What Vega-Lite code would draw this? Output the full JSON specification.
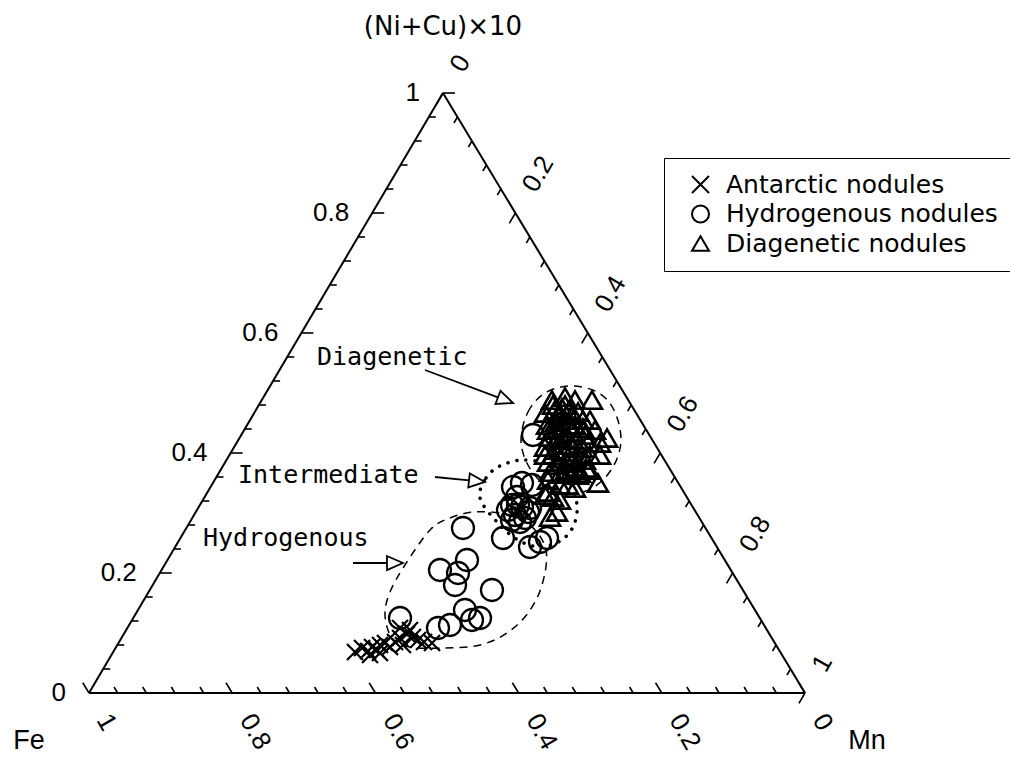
{
  "$schema": "https://vega.github.io/schema/vega-lite/v6.json",
  "width": 716,
  "height": 600,
  "autosize": {"type": "none"},
  "padding": {"left": 89, "top": 93, "right": 205, "bottom": 64},
  "background": "white",
  "config": {
    "view": {"stroke": null},
    "legend": {
      "orient": "none", "legendX": 575, "legendY": 65,
      "strokeColor": "black", "padding": 14, "symbolOffset": 10, "labelOffset": 13,
      "labelFont": "DejaVu Sans", "labelFontSize": 25, "labelColor": "black", "labelLimit": 500,
      "symbolSize": 289, "symbolStrokeWidth": 2, "symbolStrokeColor": "black", "symbolFillColor": "transparent", "symbolOpacity": 1,
      "rowPadding": 3.5
    }
  },
  "datasets": {
    "points": [
      {"type": "Antarctic nodules", "x": 0.3715, "y": 0.0683},
      {"type": "Antarctic nodules", "x": 0.3813, "y": 0.0750},
      {"type": "Antarctic nodules", "x": 0.3897, "y": 0.0700},
      {"type": "Antarctic nodules", "x": 0.3953, "y": 0.0767},
      {"type": "Antarctic nodules", "x": 0.4022, "y": 0.0717},
      {"type": "Antarctic nodules", "x": 0.4064, "y": 0.0800},
      {"type": "Antarctic nodules", "x": 0.4134, "y": 0.0833},
      {"type": "Antarctic nodules", "x": 0.4204, "y": 0.0767},
      {"type": "Antarctic nodules", "x": 0.4274, "y": 0.0850},
      {"type": "Antarctic nodules", "x": 0.4344, "y": 0.0917},
      {"type": "Antarctic nodules", "x": 0.4385, "y": 0.0800},
      {"type": "Antarctic nodules", "x": 0.4441, "y": 0.0983},
      {"type": "Antarctic nodules", "x": 0.4483, "y": 0.1050},
      {"type": "Antarctic nodules", "x": 0.4525, "y": 0.0933},
      {"type": "Antarctic nodules", "x": 0.4595, "y": 0.0883},
      {"type": "Antarctic nodules", "x": 0.4679, "y": 0.0850},
      {"type": "Antarctic nodules", "x": 0.4791, "y": 0.0833},
      {"type": "Antarctic nodules", "x": 0.4064, "y": 0.0667},
      {"type": "Antarctic nodules", "x": 0.3925, "y": 0.0633},
      {"type": "Antarctic nodules", "x": 0.4344, "y": 0.1083},
      {"type": "Hydrogenous nodules", "x": 0.4344, "y": 0.1250},
      {"type": "Hydrogenous nodules", "x": 0.4874, "y": 0.1083},
      {"type": "Hydrogenous nodules", "x": 0.5042, "y": 0.1133},
      {"type": "Hydrogenous nodules", "x": 0.5251, "y": 0.1383},
      {"type": "Hydrogenous nodules", "x": 0.5349, "y": 0.1217},
      {"type": "Hydrogenous nodules", "x": 0.5461, "y": 0.1250},
      {"type": "Hydrogenous nodules", "x": 0.5112, "y": 0.1800},
      {"type": "Hydrogenous nodules", "x": 0.5154, "y": 0.2000},
      {"type": "Hydrogenous nodules", "x": 0.4902, "y": 0.2050},
      {"type": "Hydrogenous nodules", "x": 0.5279, "y": 0.2217},
      {"type": "Hydrogenous nodules", "x": 0.5628, "y": 0.1717},
      {"type": "Hydrogenous nodules", "x": 0.5223, "y": 0.2750},
      {"type": "Hydrogenous nodules", "x": 0.5782, "y": 0.2583},
      {"type": "Hydrogenous nodules", "x": 0.6159, "y": 0.2433},
      {"type": "Hydrogenous nodules", "x": 0.6299, "y": 0.2517},
      {"type": "Hydrogenous nodules", "x": 0.6397, "y": 0.2583},
      {"type": "Hydrogenous nodules", "x": 0.6047, "y": 0.3500},
      {"type": "Hydrogenous nodules", "x": 0.6187, "y": 0.3467},
      {"type": "Hydrogenous nodules", "x": 0.5978, "y": 0.3267},
      {"type": "Hydrogenous nodules", "x": 0.5852, "y": 0.3050},
      {"type": "Hydrogenous nodules", "x": 0.6047, "y": 0.3100},
      {"type": "Hydrogenous nodules", "x": 0.5950, "y": 0.2967},
      {"type": "Hydrogenous nodules", "x": 0.6089, "y": 0.2917},
      {"type": "Hydrogenous nodules", "x": 0.6159, "y": 0.3083},
      {"type": "Hydrogenous nodules", "x": 0.6020, "y": 0.2850},
      {"type": "Hydrogenous nodules", "x": 0.5908, "y": 0.3133},
      {"type": "Hydrogenous nodules", "x": 0.5922, "y": 0.3433},
      {"type": "Hydrogenous nodules", "x": 0.6201, "y": 0.4300},
      {"type": "Hydrogenous nodules", "x": 0.5992, "y": 0.3133},
      {"type": "Hydrogenous nodules", "x": 0.6131, "y": 0.3017},
      {"type": "Hydrogenous nodules", "x": 0.5908, "y": 0.2883},
      {"type": "Diagenetic nodules", "x": 0.6466, "y": 0.4883},
      {"type": "Diagenetic nodules", "x": 0.6648, "y": 0.4933},
      {"type": "Diagenetic nodules", "x": 0.6788, "y": 0.4883},
      {"type": "Diagenetic nodules", "x": 0.7025, "y": 0.4883},
      {"type": "Diagenetic nodules", "x": 0.6369, "y": 0.4667},
      {"type": "Diagenetic nodules", "x": 0.6508, "y": 0.4717},
      {"type": "Diagenetic nodules", "x": 0.6606, "y": 0.4750},
      {"type": "Diagenetic nodules", "x": 0.6718, "y": 0.4717},
      {"type": "Diagenetic nodules", "x": 0.6830, "y": 0.4683},
      {"type": "Diagenetic nodules", "x": 0.6397, "y": 0.4467},
      {"type": "Diagenetic nodules", "x": 0.6522, "y": 0.4517},
      {"type": "Diagenetic nodules", "x": 0.6648, "y": 0.4550},
      {"type": "Diagenetic nodules", "x": 0.6788, "y": 0.4467},
      {"type": "Diagenetic nodules", "x": 0.6899, "y": 0.4417},
      {"type": "Diagenetic nodules", "x": 0.7067, "y": 0.4383},
      {"type": "Diagenetic nodules", "x": 0.7235, "y": 0.4250},
      {"type": "Diagenetic nodules", "x": 0.7137, "y": 0.4167},
      {"type": "Diagenetic nodules", "x": 0.6439, "y": 0.4267},
      {"type": "Diagenetic nodules", "x": 0.6578, "y": 0.4300},
      {"type": "Diagenetic nodules", "x": 0.6690, "y": 0.4250},
      {"type": "Diagenetic nodules", "x": 0.6830, "y": 0.4217},
      {"type": "Diagenetic nodules", "x": 0.6969, "y": 0.4167},
      {"type": "Diagenetic nodules", "x": 0.6508, "y": 0.4050},
      {"type": "Diagenetic nodules", "x": 0.6648, "y": 0.4017},
      {"type": "Diagenetic nodules", "x": 0.6760, "y": 0.4083},
      {"type": "Diagenetic nodules", "x": 0.6885, "y": 0.3967},
      {"type": "Diagenetic nodules", "x": 0.6411, "y": 0.3850},
      {"type": "Diagenetic nodules", "x": 0.6550, "y": 0.3800},
      {"type": "Diagenetic nodules", "x": 0.6676, "y": 0.3833},
      {"type": "Diagenetic nodules", "x": 0.6816, "y": 0.3767},
      {"type": "Diagenetic nodules", "x": 0.6927, "y": 0.3883},
      {"type": "Diagenetic nodules", "x": 0.6439, "y": 0.3683},
      {"type": "Diagenetic nodules", "x": 0.6578, "y": 0.3650},
      {"type": "Diagenetic nodules", "x": 0.6718, "y": 0.3667},
      {"type": "Diagenetic nodules", "x": 0.6858, "y": 0.3667},
      {"type": "Diagenetic nodules", "x": 0.6983, "y": 0.3717},
      {"type": "Diagenetic nodules", "x": 0.7109, "y": 0.3500},
      {"type": "Diagenetic nodules", "x": 0.6690, "y": 0.3467},
      {"type": "Diagenetic nodules", "x": 0.6411, "y": 0.3350},
      {"type": "Diagenetic nodules", "x": 0.6578, "y": 0.3217},
      {"type": "Diagenetic nodules", "x": 0.6480, "y": 0.3267},
      {"type": "Diagenetic nodules", "x": 0.6439, "y": 0.2933},
      {"type": "Diagenetic nodules", "x": 0.6536, "y": 0.3017},
      {"type": "Diagenetic nodules", "x": 0.6369, "y": 0.3300},
      {"type": "Diagenetic nodules", "x": 0.6550, "y": 0.4417},
      {"type": "Diagenetic nodules", "x": 0.6746, "y": 0.4350},
      {"type": "Diagenetic nodules", "x": 0.6606, "y": 0.4133},
      {"type": "Diagenetic nodules", "x": 0.6788, "y": 0.3917},
      {"type": "Diagenetic nodules", "x": 0.6480, "y": 0.3967},
      {"type": "Diagenetic nodules", "x": 0.6662, "y": 0.3717},
      {"type": "Diagenetic nodules", "x": 0.6899, "y": 0.4550},
      {"type": "Diagenetic nodules", "x": 0.6578, "y": 0.4633},
      {"type": "Diagenetic nodules", "x": 0.6718, "y": 0.4467},
      {"type": "Diagenetic nodules", "x": 0.6997, "y": 0.3967},
      {"type": "Diagenetic nodules", "x": 0.6369, "y": 0.4100},
      {"type": "Diagenetic nodules", "x": 0.6830, "y": 0.3633},
      {"type": "Diagenetic nodules", "x": 0.6411, "y": 0.4383},
      {"type": "Diagenetic nodules", "x": 0.6620, "y": 0.4417},
      {"type": "Diagenetic nodules", "x": 0.6760, "y": 0.4633},
      {"type": "Diagenetic nodules", "x": 0.6927, "y": 0.4300},
      {"type": "Diagenetic nodules", "x": 0.6522, "y": 0.4217},
      {"type": "Diagenetic nodules", "x": 0.6732, "y": 0.4133},
      {"type": "Diagenetic nodules", "x": 0.6885, "y": 0.4083},
      {"type": "Diagenetic nodules", "x": 0.6578, "y": 0.3917},
      {"type": "Diagenetic nodules", "x": 0.6746, "y": 0.3850},
      {"type": "Diagenetic nodules", "x": 0.6941, "y": 0.3750},
      {"type": "Diagenetic nodules", "x": 0.6411, "y": 0.3550},
      {"type": "Diagenetic nodules", "x": 0.6578, "y": 0.3467},
      {"type": "Diagenetic nodules", "x": 0.6788, "y": 0.3417},
      {"type": "Diagenetic nodules", "x": 0.6480, "y": 0.4800},
      {"type": "Diagenetic nodules", "x": 0.6997, "y": 0.4550},
      {"type": "Diagenetic nodules", "x": 0.7137, "y": 0.3967},
      {"type": "Diagenetic nodules", "x": 0.6369, "y": 0.3967},
      {"type": "Diagenetic nodules", "x": 0.6648, "y": 0.4800}
    ],
    "frame": [
      {"k": "e", "x": 0, "y": 0, "x2": 1, "y2": 0},
      {"k": "e", "x": 1, "y": 0, "x2": 0.4944, "y2": 1},
      {"k": "e", "x": 0.4944, "y": 1, "x2": 0, "y2": 0},
      {"k": "t", "x": 0, "y": 0, "x2": 0.0168, "y2": 0},
      {"k": "t", "x": 0.0198, "y": 0.04, "x2": 0.0296, "y2": 0.04},
      {"k": "t", "x": 0.0396, "y": 0.08, "x2": 0.0493, "y2": 0.08},
      {"k": "t", "x": 0.0593, "y": 0.12, "x2": 0.0691, "y2": 0.12},
      {"k": "t", "x": 0.0791, "y": 0.16, "x2": 0.0889, "y2": 0.16},
      {"k": "t", "x": 0.0989, "y": 0.20, "x2": 0.1156, "y2": 0.20},
      {"k": "t", "x": 0.1187, "y": 0.24, "x2": 0.1284, "y2": 0.24},
      {"k": "t", "x": 0.1384, "y": 0.28, "x2": 0.1482, "y2": 0.28},
      {"k": "t", "x": 0.1582, "y": 0.32, "x2": 0.1680, "y2": 0.32},
      {"k": "t", "x": 0.1780, "y": 0.36, "x2": 0.1878, "y2": 0.36},
      {"k": "t", "x": 0.1978, "y": 0.40, "x2": 0.2145, "y2": 0.40},
      {"k": "t", "x": 0.2175, "y": 0.44, "x2": 0.2273, "y2": 0.44},
      {"k": "t", "x": 0.2373, "y": 0.48, "x2": 0.2471, "y2": 0.48},
      {"k": "t", "x": 0.2571, "y": 0.52, "x2": 0.2669, "y2": 0.52},
      {"k": "t", "x": 0.2769, "y": 0.56, "x2": 0.2867, "y2": 0.56},
      {"k": "t", "x": 0.2967, "y": 0.60, "x2": 0.3134, "y2": 0.60},
      {"k": "t", "x": 0.3164, "y": 0.64, "x2": 0.3262, "y2": 0.64},
      {"k": "t", "x": 0.3362, "y": 0.68, "x2": 0.3460, "y2": 0.68},
      {"k": "t", "x": 0.3560, "y": 0.72, "x2": 0.3658, "y2": 0.72},
      {"k": "t", "x": 0.3758, "y": 0.76, "x2": 0.3855, "y2": 0.76},
      {"k": "t", "x": 0.3955, "y": 0.80, "x2": 0.4123, "y2": 0.80},
      {"k": "t", "x": 0.4153, "y": 0.84, "x2": 0.4251, "y2": 0.84},
      {"k": "t", "x": 0.4351, "y": 0.88, "x2": 0.4449, "y2": 0.88},
      {"k": "t", "x": 0.4549, "y": 0.92, "x2": 0.4646, "y2": 0.92},
      {"k": "t", "x": 0.4746, "y": 0.96, "x2": 0.4844, "y2": 0.96},
      {"k": "t", "x": 0.4944, "y": 1.00, "x2": 0.5112, "y2": 1.00},
      {"k": "t", "x": 0, "y": 0, "x2": -0.0087, "y2": 0.0171},
      {"k": "t", "x": 0.04, "y": 0, "x2": 0.0350, "y2": 0.0100},
      {"k": "t", "x": 0.08, "y": 0, "x2": 0.0750, "y2": 0.0100},
      {"k": "t", "x": 0.12, "y": 0, "x2": 0.1150, "y2": 0.0100},
      {"k": "t", "x": 0.16, "y": 0, "x2": 0.1550, "y2": 0.0100},
      {"k": "t", "x": 0.20, "y": 0, "x2": 0.1913, "y2": 0.0171},
      {"k": "t", "x": 0.24, "y": 0, "x2": 0.2350, "y2": 0.0100},
      {"k": "t", "x": 0.28, "y": 0, "x2": 0.2750, "y2": 0.0100},
      {"k": "t", "x": 0.32, "y": 0, "x2": 0.3150, "y2": 0.0100},
      {"k": "t", "x": 0.36, "y": 0, "x2": 0.3550, "y2": 0.0100},
      {"k": "t", "x": 0.40, "y": 0, "x2": 0.3913, "y2": 0.0171},
      {"k": "t", "x": 0.44, "y": 0, "x2": 0.4350, "y2": 0.0100},
      {"k": "t", "x": 0.48, "y": 0, "x2": 0.4750, "y2": 0.0100},
      {"k": "t", "x": 0.52, "y": 0, "x2": 0.5150, "y2": 0.0100},
      {"k": "t", "x": 0.56, "y": 0, "x2": 0.5550, "y2": 0.0100},
      {"k": "t", "x": 0.60, "y": 0, "x2": 0.5913, "y2": 0.0171},
      {"k": "t", "x": 0.64, "y": 0, "x2": 0.6350, "y2": 0.0100},
      {"k": "t", "x": 0.68, "y": 0, "x2": 0.6750, "y2": 0.0100},
      {"k": "t", "x": 0.72, "y": 0, "x2": 0.7150, "y2": 0.0100},
      {"k": "t", "x": 0.76, "y": 0, "x2": 0.7550, "y2": 0.0100},
      {"k": "t", "x": 0.80, "y": 0, "x2": 0.7913, "y2": 0.0171},
      {"k": "t", "x": 0.84, "y": 0, "x2": 0.8350, "y2": 0.0100},
      {"k": "t", "x": 0.88, "y": 0, "x2": 0.8750, "y2": 0.0100},
      {"k": "t", "x": 0.92, "y": 0, "x2": 0.9150, "y2": 0.0100},
      {"k": "t", "x": 0.96, "y": 0, "x2": 0.9550, "y2": 0.0100},
      {"k": "t", "x": 1.00, "y": 0, "x2": 0.9913, "y2": 0.0171},
      {"k": "t", "x": 0.4944, "y": 1.00, "x2": 0.4859, "y2": 0.9828},
      {"k": "t", "x": 0.5146, "y": 0.96, "x2": 0.5097, "y2": 0.9500},
      {"k": "t", "x": 0.5349, "y": 0.92, "x2": 0.5299, "y2": 0.9100},
      {"k": "t", "x": 0.5551, "y": 0.88, "x2": 0.5501, "y2": 0.8700},
      {"k": "t", "x": 0.5753, "y": 0.84, "x2": 0.5703, "y2": 0.8300},
      {"k": "t", "x": 0.5955, "y": 0.80, "x2": 0.5870, "y2": 0.7828},
      {"k": "t", "x": 0.6158, "y": 0.76, "x2": 0.6108, "y2": 0.7500},
      {"k": "t", "x": 0.6360, "y": 0.72, "x2": 0.6310, "y2": 0.7100},
      {"k": "t", "x": 0.6562, "y": 0.68, "x2": 0.6512, "y2": 0.6700},
      {"k": "t", "x": 0.6764, "y": 0.64, "x2": 0.6715, "y2": 0.6300},
      {"k": "t", "x": 0.6967, "y": 0.60, "x2": 0.6881, "y2": 0.5828},
      {"k": "t", "x": 0.7169, "y": 0.56, "x2": 0.7119, "y2": 0.5500},
      {"k": "t", "x": 0.7371, "y": 0.52, "x2": 0.7321, "y2": 0.5100},
      {"k": "t", "x": 0.7573, "y": 0.48, "x2": 0.7524, "y2": 0.4700},
      {"k": "t", "x": 0.7775, "y": 0.44, "x2": 0.7726, "y2": 0.4300},
      {"k": "t", "x": 0.7978, "y": 0.40, "x2": 0.7892, "y2": 0.3828},
      {"k": "t", "x": 0.8180, "y": 0.36, "x2": 0.8130, "y2": 0.3500},
      {"k": "t", "x": 0.8382, "y": 0.32, "x2": 0.8332, "y2": 0.3100},
      {"k": "t", "x": 0.8584, "y": 0.28, "x2": 0.8535, "y2": 0.2700},
      {"k": "t", "x": 0.8787, "y": 0.24, "x2": 0.8737, "y2": 0.2300},
      {"k": "t", "x": 0.8989, "y": 0.20, "x2": 0.8904, "y2": 0.1828},
      {"k": "t", "x": 0.9191, "y": 0.16, "x2": 0.9141, "y2": 0.1500},
      {"k": "t", "x": 0.9393, "y": 0.12, "x2": 0.9344, "y2": 0.1100},
      {"k": "t", "x": 0.9596, "y": 0.08, "x2": 0.9546, "y2": 0.0700},
      {"k": "t", "x": 0.9798, "y": 0.04, "x2": 0.9748, "y2": 0.0300},
      {"k": "t", "x": 1.0000, "y": 0.00, "x2": 0.9915, "y2": -0.0172}
    ],
    "ticklabels": [
      {"s": "l", "x": -0.0321, "y": 0, "label": "0"},
      {"s": "l", "x": 0.0668, "y": 0.2, "label": "0.2"},
      {"s": "l", "x": 0.1656, "y": 0.4, "label": "0.4"},
      {"s": "l", "x": 0.2645, "y": 0.6, "label": "0.6"},
      {"s": "l", "x": 0.3634, "y": 0.8, "label": "0.8"},
      {"s": "l", "x": 0.4623, "y": 1.0, "label": "1"},
      {"s": "b", "x": 0.0195, "y": -0.0385, "label": "1"},
      {"s": "b", "x": 0.2195, "y": -0.0385, "label": "0.8"},
      {"s": "b", "x": 0.4195, "y": -0.0385, "label": "0.6"},
      {"s": "b", "x": 0.6195, "y": -0.0385, "label": "0.4"},
      {"s": "b", "x": 0.8195, "y": -0.0385, "label": "0.2"},
      {"s": "b", "x": 1.0195, "y": -0.0385, "label": "0"},
      {"s": "r", "x": 0.5136, "y": 1.0388, "label": "0"},
      {"s": "r", "x": 0.6147, "y": 0.8388, "label": "0.2"},
      {"s": "r", "x": 0.7158, "y": 0.6388, "label": "0.4"},
      {"s": "r", "x": 0.8169, "y": 0.4388, "label": "0.6"},
      {"s": "r", "x": 0.9180, "y": 0.2388, "label": "0.8"},
      {"s": "r", "x": 1.0192, "y": 0.0388, "label": "1"}
    ],
    "curves": [
      {"c": "Diagenetic", "o": 1, "x": 0.6034, "y": 0.4217},
      {"c": "Diagenetic", "o": 2, "x": 0.6131, "y": 0.4683},
      {"c": "Diagenetic", "o": 3, "x": 0.6369, "y": 0.5000},
      {"c": "Diagenetic", "o": 4, "x": 0.6718, "y": 0.5117},
      {"c": "Diagenetic", "o": 5, "x": 0.7095, "y": 0.5017},
      {"c": "Diagenetic", "o": 6, "x": 0.7332, "y": 0.4717},
      {"c": "Diagenetic", "o": 7, "x": 0.7430, "y": 0.4217},
      {"c": "Diagenetic", "o": 8, "x": 0.7318, "y": 0.3767},
      {"c": "Diagenetic", "o": 9, "x": 0.7053, "y": 0.3433},
      {"c": "Diagenetic", "o": 10, "x": 0.6718, "y": 0.3317},
      {"c": "Diagenetic", "o": 11, "x": 0.6369, "y": 0.3467},
      {"c": "Diagenetic", "o": 12, "x": 0.6131, "y": 0.3800},
      {"c": "Hydrogenous", "o": 1, "x": 0.4763, "y": 0.2717},
      {"c": "Hydrogenous", "o": 2, "x": 0.5042, "y": 0.2917},
      {"c": "Hydrogenous", "o": 3, "x": 0.5391, "y": 0.3017},
      {"c": "Hydrogenous", "o": 4, "x": 0.5810, "y": 0.2983},
      {"c": "Hydrogenous", "o": 5, "x": 0.6159, "y": 0.2800},
      {"c": "Hydrogenous", "o": 6, "x": 0.6383, "y": 0.2383},
      {"c": "Hydrogenous", "o": 7, "x": 0.6327, "y": 0.1800},
      {"c": "Hydrogenous", "o": 8, "x": 0.6131, "y": 0.1333},
      {"c": "Hydrogenous", "o": 9, "x": 0.5838, "y": 0.1000},
      {"c": "Hydrogenous", "o": 10, "x": 0.5461, "y": 0.0800},
      {"c": "Hydrogenous", "o": 11, "x": 0.4972, "y": 0.0750},
      {"c": "Hydrogenous", "o": 12, "x": 0.4483, "y": 0.0767},
      {"c": "Hydrogenous", "o": 13, "x": 0.4232, "y": 0.0917},
      {"c": "Hydrogenous", "o": 14, "x": 0.4134, "y": 0.1300},
      {"c": "Hydrogenous", "o": 15, "x": 0.4204, "y": 0.1683},
      {"c": "Hydrogenous", "o": 16, "x": 0.4413, "y": 0.2133},
      {"c": "Intermediate", "o": 1, "x": 0.5461, "y": 0.3250},
      {"c": "Intermediate", "o": 2, "x": 0.5545, "y": 0.3583},
      {"c": "Intermediate", "o": 3, "x": 0.5740, "y": 0.3783},
      {"c": "Intermediate", "o": 4, "x": 0.6061, "y": 0.3883},
      {"c": "Intermediate", "o": 5, "x": 0.6439, "y": 0.3800},
      {"c": "Intermediate", "o": 6, "x": 0.6690, "y": 0.3550},
      {"c": "Intermediate", "o": 7, "x": 0.6816, "y": 0.3133},
      {"c": "Intermediate", "o": 8, "x": 0.6760, "y": 0.2767},
      {"c": "Intermediate", "o": 9, "x": 0.6578, "y": 0.2533},
      {"c": "Intermediate", "o": 10, "x": 0.6299, "y": 0.2433},
      {"c": "Intermediate", "o": 11, "x": 0.5992, "y": 0.2550},
      {"c": "Intermediate", "o": 12, "x": 0.5698, "y": 0.2850}
    ],
    "shafts": [
      {"x": 0.4693, "y": 0.5383, "x2": 0.5712, "y2": 0.4927},
      {"x": 0.4832, "y": 0.3600, "x2": 0.5309, "y2": 0.3543},
      {"x": 0.3687, "y": 0.2167, "x2": 0.4162, "y2": 0.2167}
    ],
    "heads": [
      {"a": 1, "o": 1, "x": 0.5922, "y": 0.4833},
      {"a": 1, "o": 2, "x": 0.5677, "y": 0.4817},
      {"a": 1, "o": 3, "x": 0.5747, "y": 0.5037},
      {"a": 2, "o": 1, "x": 0.5531, "y": 0.3517},
      {"a": 2, "o": 2, "x": 0.5297, "y": 0.3427},
      {"a": 2, "o": 3, "x": 0.5318, "y": 0.3660},
      {"a": 3, "o": 1, "x": 0.4385, "y": 0.2167},
      {"a": 3, "o": 2, "x": 0.4162, "y": 0.2050},
      {"a": 3, "o": 3, "x": 0.4162, "y": 0.2283}
    ],
    "notes": [
      {"label": "Diagenetic", "x": 0.3184, "y": 0.5600},
      {"label": "Intermediate", "x": 0.2081, "y": 0.3633},
      {"label": "Hydrogenous", "x": 0.1592, "y": 0.2583}
    ],
    "names": [
      {"label": "Fe", "x": -0.0838, "y": -0.08},
      {"label": "Mn", "x": 1.0866, "y": -0.08}
    ],
    "top": [
      {"label": "(Ni+Cu)×10", "x": 0.4944, "y": 1.11}
    ]
  },
  "encoding": {
    "x": {"field": "x", "type": "quantitative", "scale": {"domain": [0, 1], "nice": false, "zero": false}, "axis": null},
    "y": {"field": "y", "type": "quantitative", "scale": {"domain": [0, 1], "nice": false, "zero": false}, "axis": null}
  },
  "layer": [
    {
      "data": {"name": "frame"},
      "transform": [{"filter": "datum.k === 'e'"}],
      "mark": {"type": "rule", "color": "black", "strokeWidth": 2},
      "encoding": {"x2": {"field": "x2"}, "y2": {"field": "y2"}}
    },
    {
      "data": {"name": "frame"},
      "transform": [{"filter": "datum.k === 't'"}],
      "mark": {"type": "rule", "color": "black", "strokeWidth": 1.6},
      "encoding": {"x2": {"field": "x2"}, "y2": {"field": "y2"}}
    },
    {
      "data": {"name": "ticklabels"},
      "transform": [{"filter": "datum.s === 'l'"}],
      "mark": {"type": "text", "align": "right", "baseline": "middle", "font": "Liberation Sans", "fontSize": 26, "color": "black"},
      "encoding": {"text": {"field": "label"}}
    },
    {
      "data": {"name": "ticklabels"},
      "transform": [{"filter": "datum.s === 'b'"}],
      "mark": {"type": "text", "align": "left", "baseline": "middle", "angle": 60, "font": "Liberation Sans", "fontSize": 26, "color": "black"},
      "encoding": {"text": {"field": "label"}}
    },
    {
      "data": {"name": "ticklabels"},
      "transform": [{"filter": "datum.s === 'r'"}],
      "mark": {"type": "text", "align": "left", "baseline": "middle", "angle": 300, "font": "Liberation Sans", "fontSize": 26, "color": "black"},
      "encoding": {"text": {"field": "label"}}
    },
    {
      "data": {"name": "names"},
      "mark": {"type": "text", "align": "center", "baseline": "middle", "font": "Liberation Sans", "fontSize": 27, "color": "black"},
      "encoding": {"text": {"field": "label"}}
    },
    {
      "data": {"name": "top"},
      "mark": {"type": "text", "align": "center", "baseline": "middle", "font": "DejaVu Sans", "fontSize": 26, "color": "black"},
      "encoding": {"text": {"field": "label"}}
    },
    {
      "data": {"name": "curves"},
      "transform": [{"filter": "datum.c !== 'Intermediate'"}],
      "mark": {"type": "line", "interpolate": "cardinal-closed", "color": "black", "strokeWidth": 1.5, "strokeDash": [8, 6]},
      "encoding": {"order": {"field": "o", "type": "quantitative"}, "detail": {"field": "c"}}
    },
    {
      "data": {"name": "curves"},
      "transform": [{"filter": "datum.c === 'Intermediate'"}],
      "mark": {"type": "line", "interpolate": "cardinal-closed", "color": "black", "strokeWidth": 3.5, "strokeDash": [0.1, 9], "strokeCap": "round"},
      "encoding": {"order": {"field": "o", "type": "quantitative"}, "detail": {"field": "c"}}
    },
    {
      "data": {"name": "shafts"},
      "mark": {"type": "rule", "color": "black", "strokeWidth": 1.8},
      "encoding": {"x2": {"field": "x2"}, "y2": {"field": "y2"}}
    },
    {
      "data": {"name": "heads"},
      "mark": {"type": "line", "interpolate": "linear-closed", "color": "black", "strokeWidth": 1.8},
      "encoding": {"order": {"field": "o", "type": "quantitative"}, "detail": {"field": "a"}}
    },
    {
      "data": {"name": "notes"},
      "mark": {"type": "text", "align": "left", "baseline": "middle", "font": "DejaVu Sans Mono", "fontSize": 25, "color": "black"},
      "encoding": {"text": {"field": "label"}}
    },
    {
      "data": {"name": "points"},
      "transform": [{"filter": "datum.type === 'Antarctic nodules'"}],
      "mark": {"type": "point", "filled": false, "color": "black", "strokeWidth": 2.2, "opacity": 1, "size": 256},
      "encoding": {
        "shape": {
          "field": "type", "type": "nominal",
          "scale": {"domain": ["Antarctic nodules", "Hydrogenous nodules", "Diagenetic nodules"], "range": ["M-1,-1L1,1M-1,1L1,-1", "circle", "triangle-up"]},
          "legend": {"title": null, "encode": {"legend": {"update": {"strokeWidth": {"value": 1.8}}}}}
        }
      }
    },
    {
      "data": {"name": "points"},
      "transform": [{"filter": "datum.type === 'Hydrogenous nodules'"}],
      "mark": {"type": "point", "filled": false, "color": "black", "strokeWidth": 2.3, "opacity": 1, "size": 484},
      "encoding": {
        "shape": {
          "field": "type", "type": "nominal",
          "scale": {"domain": ["Antarctic nodules", "Hydrogenous nodules", "Diagenetic nodules"], "range": ["M-1,-1L1,1M-1,1L1,-1", "circle", "triangle-up"]},
          "legend": {"title": null}
        }
      }
    },
    {
      "data": {"name": "points"},
      "transform": [{"filter": "datum.type === 'Diagenetic nodules'"}],
      "mark": {"type": "point", "filled": false, "color": "black", "strokeWidth": 2.6, "opacity": 1, "size": 400},
      "encoding": {
        "shape": {
          "field": "type", "type": "nominal",
          "scale": {"domain": ["Antarctic nodules", "Hydrogenous nodules", "Diagenetic nodules"], "range": ["M-1,-1L1,1M-1,1L1,-1", "circle", "triangle-up"]},
          "legend": {"title": null}
        }
      }
    }
  ]
}
